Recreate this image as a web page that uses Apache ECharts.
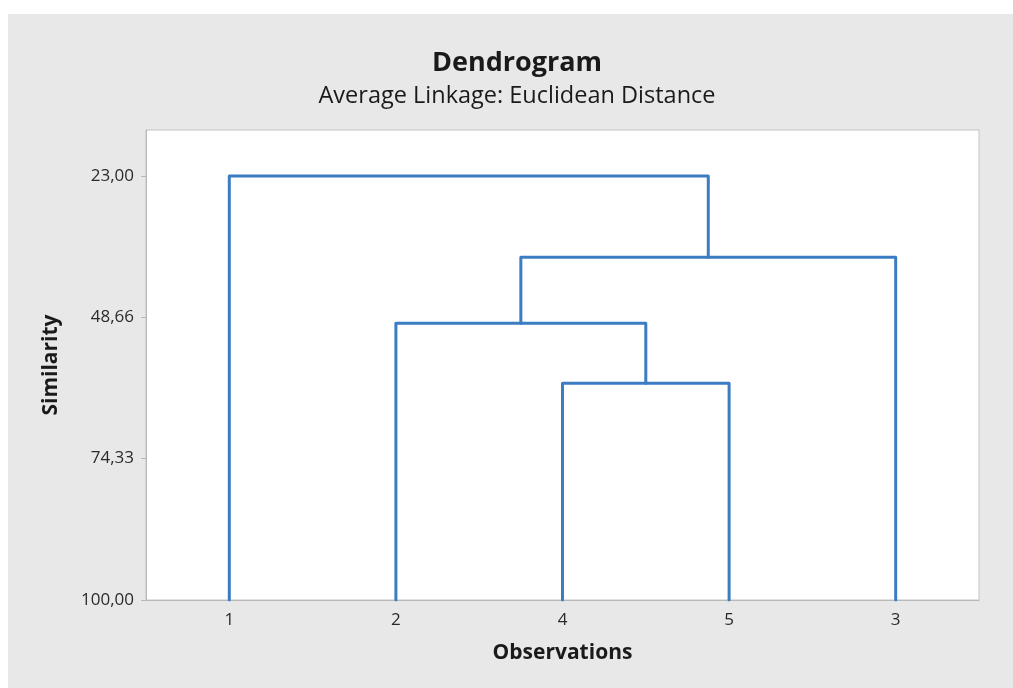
<!DOCTYPE html>
<html>
<head>
<meta charset="utf-8">
<script src="https://cdn.jsdelivr.net/npm/echarts@6/dist/echarts.min.js"></script>
<style>
html,body{margin:0;padding:0;background:#ffffff;width:1013px;height:688px;overflow:hidden;}
#chart{position:absolute;left:8px;top:14px;width:1005px;height:674px;}
</style>
</head>
<body>
<div id="chart"></div>
<script>
// Leaf order along the x axis
const observations = ['1', '2', '4', '5', '3'];
// Merge steps: cluster A joins cluster B at the given similarity (C1, C2... are the merged clusters in order)
const mergeA = ['4', '2', 'C2', '1'];
const mergeB = ['5', 'C1', '3', 'C3'];
const mergeSimilarity = [60.65, 49.75, 37.77, 23.00];
// Y tick labels
const yTickValues = [23.00, 48.66, 74.33, 100.00];

const chart = echarts.init(document.getElementById('chart'));

// positions of leaves/clusters derived from the tree structure
const nodeX = {}, nodeH = {};
observations.forEach((o, i) => { nodeX[o] = i; nodeH[o] = 100; });
const series = [];
mergeSimilarity.forEach((s, k) => {
  const a = mergeA[k], b = mergeB[k];
  const id = 'C' + (k + 1);
  series.push({
    type: 'line',
    xAxisIndex: 1,
    symbol: 'none',
    silent: true,
    animation: false,
    lineStyle: { color: '#3b7cc3', width: 3, join: 'round', cap: 'round' },
    data: [[nodeX[a], nodeH[a]], [nodeX[a], s], [nodeX[b], s], [nodeX[b], nodeH[b]]]
  });
  nodeX[id] = (nodeX[a] + nodeX[b]) / 2;
  nodeH[id] = s;
});

const fontFam = '"Open Sans", "Noto Sans", sans-serif';
chart.setOption({
  backgroundColor: '#e8e8e8',
  animation: false,
  graphic: [
    { type: 'text', x: 509, y: 49, z: 10,
      style: { text: 'Dendrogram', fill: '#1a1a1a', font: 'bold 27px ' + fontFam, textAlign: 'center', textVerticalAlign: 'middle' } },
    { type: 'text', x: 509, y: 82, z: 10,
      style: { text: 'Average Linkage: Euclidean Distance', fill: '#1a1a1a', font: '23.5px ' + fontFam, textAlign: 'center', textVerticalAlign: 'middle' } }
  ],
  grid: {
    left: 138, right: 34, top: 116, bottom: 88,
    show: true, backgroundColor: '#ffffff', borderColor: '#c4c4c4', borderWidth: 1
  },
  xAxis: [{
    type: 'category',
    data: observations,
    name: 'Observations',
    nameLocation: 'middle',
    nameGap: 43,
    nameTextStyle: { fontFamily: fontFam, fontSize: 21, fontWeight: 'bold', color: '#1a1a1a' },
    axisLine: { lineStyle: { color: '#b8b8b8' } },
    axisTick: { alignWithLabel: true, length: 5, lineStyle: { color: '#b8b8b8' } },
    axisLabel: { fontFamily: fontFam, fontSize: 17, color: '#2a2a2a', margin: 12 },
    splitLine: { show: false }
  }, {
    type: 'value',
    min: -0.5, max: 4.5,
    show: false
  }],
  yAxis: {
    type: 'value',
    inverse: true,
    min: 14.65,
    max: 100,
    name: 'Similarity',
    nameLocation: 'middle',
    nameGap: 84,
    nameRotate: 90,
    nameTextStyle: { fontFamily: fontFam, fontSize: 21, fontWeight: 'bold', color: '#1a1a1a' },
    axisLine: { show: true, onZero: false, lineStyle: { color: '#b8b8b8' } },
    axisTick: { show: true, length: 5, customValues: yTickValues, lineStyle: { color: '#b8b8b8' } },
    axisLabel: {
      customValues: yTickValues,
      fontFamily: fontFam, fontSize: 17, color: '#2a2a2a', margin: 12,
      formatter: v => v.toFixed(2).replace('.', ',')
    },
    splitLine: { show: false }
  },
  series: series
});
</script>
</body>
</html>
